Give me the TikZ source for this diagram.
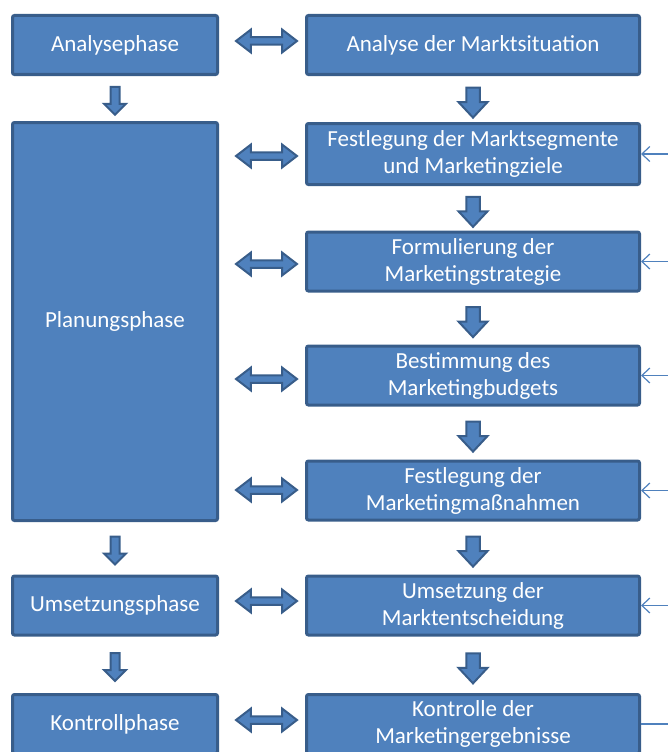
\documentclass[tikz,border=0pt]{standalone}
\usepackage{fontspec}
\setmainfont{Carlito}
\usetikzlibrary{shapes.arrows,calc,arrows.meta}
\definecolor{boxfill}{HTML}{4F81BD}
\definecolor{boxline}{HTML}{385D8A}
\tikzset{
  box/.style={draw=boxline, fill=boxfill, line width=3pt, rounded corners=2pt,
    text=white, align=center, inner sep=0pt,
    font=\fontsize{23}{27}\selectfont},
  lbox/.style={box, minimum width=205pt, minimum height=59pt},
  rbox/.style={box, minimum width=333pt, minimum height=59pt},
  dbl/.style={double arrow, draw=boxline, fill=boxfill, line width=2pt,
    inner xsep=0pt, inner ysep=2.75pt, minimum height=61pt, minimum width=21pt,
    double arrow head extend=7.75pt, double arrow tip angle=75},
  dn/.style={single arrow, rotate=-90, draw=boxline, fill=boxfill, line width=2pt,
    inner xsep=0pt, inner ysep=3.5pt, minimum height=28pt, minimum width=20pt,
    single arrow head extend=6.5pt, single arrow tip angle=90},
  dnwide/.style={dn, inner ysep=5.75pt, minimum height=30pt, minimum width=27pt,
    single arrow head extend=7.75pt, single arrow tip angle=86},
  feed/.style={draw=boxfill, line width=1.2pt},
  feedarr/.style={feed, -{Straight Barb[length=8pt,width=15pt]}}
}
\begin{document}
\begin{tikzpicture}[x=1pt,y=-1pt]
\useasboundingbox (0,0) rectangle (668,752);
\clip (0,0) rectangle (668,752);

% phases (left column)
\node[lbox] (p1) at (115,45) {Analysephase};
\node[lbox, minimum height=398pt] (p2) at (115,321.5) {Planungsphase};
\node[lbox] (p3) at (115,605.5) {Umsetzungsphase};
\node[lbox] (p4) at (115,724) {Kontrollphase};

% activities (right column)
\node[rbox] (m1) at (473,45) {Analyse der Marktsituation};
\node[rbox, minimum height=61pt] (m2) at (473,154) {Festlegung der Marktsegmente\\und Marketingziele};
\node[rbox] (m3) at (473,261.5) {Formulierung der\\Marketingstrategie};
\node[rbox] (m4) at (473,375.5) {Bestimmung des\\Marketingbudgets};
\node[rbox] (m5) at (473,490.5) {Festlegung der\\Marketingmaßnahmen};
\node[rbox] (m6) at (473,605.5) {Umsetzung der\\Marktentscheidung};
\node[rbox] (m7) at (473,724) {Kontrolle der\\Marketingergebnisse};

% flow downwards
\node[dn] (a1) at ($(p1.south)!0.5!(p2.north)$) {};
\node[dn] (a2) at ($(p2.south)!0.5!(p3.north)$) {};
\node[dn] (a3) at ($(p3.south)!0.5!(p4.north)$) {};
\node[dnwide] (b1) at ($(m1.south)!0.5!(m2.north)$) {};
\node[dnwide] (b2) at ($(m2.south)!0.5!(m3.north)$) {};
\node[dnwide] (b3) at ($(m3.south)!0.5!(m4.north)$) {};
\node[dnwide] (b4) at ($(m4.south)!0.5!(m5.north)$) {};
\node[dnwide] (b5) at ($(m5.south)!0.5!(m6.north)$) {};
\node[dnwide] (b6) at ($(m6.south)!0.5!(m7.north)$) {};

% links between phases and activities
\node[dbl] (d1) at (266.5,41) {};
\node[dbl] (d2) at (266.5,156) {};
\node[dbl] (d3) at (266.5,264) {};
\node[dbl] (d4) at (266.5,379) {};
\node[dbl] (d5) at (266.5,490) {};
\node[dbl] (d6) at (266.5,601) {};
\node[dbl] (d7) at (266.5,720) {};

% feedback lines on the right edge
\coordinate (edge) at (668,0);
\coordinate (r2) at (m2.east -| edge);
\coordinate (r3) at (m3.east -| edge);
\coordinate (r4) at (m4.east -| edge);
\coordinate (r5) at (m5.east -| edge);
\coordinate (r6) at (m6.east -| edge);
\coordinate (r7) at (m7.east -| edge);
\draw[feedarr] (r2) -- (m2.east);
\draw[feedarr] (r3) -- (m3.east);
\draw[feedarr] (r4) -- (m4.east);
\draw[feedarr] (r5) -- (m5.east);
\draw[feedarr] (r6) -- (m6.east);
\draw[feed] (r7) -- (m7.east);
\end{tikzpicture}
\end{document}
